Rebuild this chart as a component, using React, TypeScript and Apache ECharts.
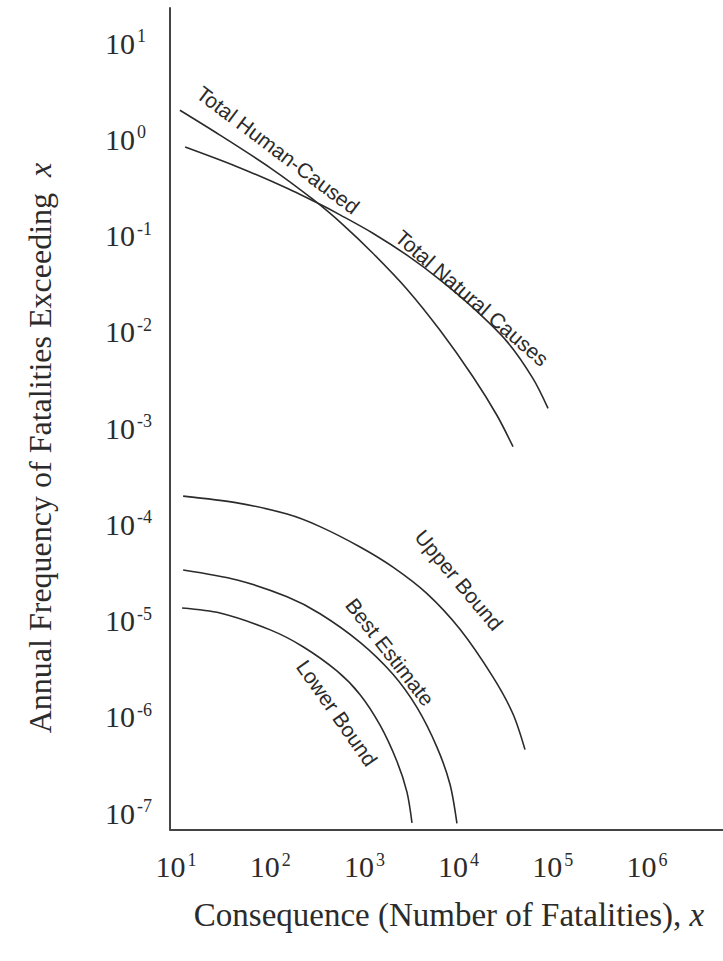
import React, { useEffect, useRef } from "react";
import * as echarts from "echarts";

// ---- Data ----
// [fatalities x, annual frequency of exceeding x]
const totalHumanCaused: [number, number][] = [
  [11, 2.0], [29, 1.11], [100, 0.505], [285, 0.237], [590, 0.13], [1230, 0.0655],
  [2830, 0.0277], [6350, 0.01035], [14200, 0.00341], [25600, 0.00135], [37800, 0.00064],
];
const totalNaturalCauses: [number, number][] = [
  [12.5, 0.83], [44.5, 0.519], [151, 0.31], [338, 0.211], [551, 0.164], [1230, 0.1057],
  [2830, 0.0625], [6350, 0.0347], [14200, 0.0178], [32700, 0.0079], [61700, 0.00326], [89000, 0.0016],
];
const upperBound: [number, number][] = [
  [11.9, 1.96e-4], [44.5, 1.67e-4], [151, 1.276e-4], [338, 9.46e-5], [900, 5.81e-5], [2010, 3.59e-5],
  [4620, 1.905e-5], [10350, 8.11e-6], [23200, 2.58e-6], [37800, 1.07e-6], [50700, 4.56e-7],
];
const bestEstimate: [number, number][] = [
  [11.9, 3.35e-5], [44.5, 2.64e-5], [151, 1.766e-5], [338, 1.178e-5], [900, 5.94e-6], [2010, 2.77e-6],
  [3610, 1.253e-6], [5900, 4.82e-7], [8100, 1.99e-7], [9600, 7.8e-8],
];
const lowerBound: [number, number][] = [
  [11.6, 1.35e-5], [29.3, 1.197e-5], [100, 8.0e-6], [223, 5.35e-6], [514, 2.98e-6], [900, 1.7e-6],
  [1466, 8.18e-7], [2218, 3.43e-7], [2830, 1.65e-7], [3200, 7.9e-8],
];

const seriesNames = ["Total Human-Caused", "Total Natural Causes", "Upper Bound", "Best Estimate", "Lower Bound"];
const seriesData = [totalHumanCaused, totalNaturalCauses, upperBound, bestEstimate, lowerBound];

const xAxisRange = [8.63, 6.41e6];
const yAxisRange = [6.75e-8, 23.1];

const xTitle = "Consequence (Number of Fatalities),";
const yTitle = "Annual Frequency of Fatalities Exceeding";
const titleVar = "x";

// ---- Styling ----
const SERIF = "'Liberation Serif', 'Times New Roman', serif";
const SANS = "'Liberation Sans', Arial, sans-serif";
const INK = "#2b2b2b";

const powLabel = (v: number) => {
  const e = Math.log10(v);
  const r = Math.round(e);
  if (Math.abs(e - r) > 1e-6) return "";
  return `{b|10}{s|${r}}`;
};

const labelRich = {
  b: { fontFamily: SERIF, fontSize: 30, lineHeight: 32, color: INK },
  s: { fontFamily: SERIF, fontSize: 18, lineHeight: 20, color: INK, verticalAlign: "top", padding: [0, 0, 0, 2] },
};

export default function App() {
  const ref = useRef<HTMLDivElement>(null);

  useEffect(() => {
    if (!ref.current) return;
    const chart = echarts.init(ref.current, undefined, { renderer: "svg" });

    const curveLabel = (text: string, x: number, y: number, deg: number) => ({
      type: "text",
      x,
      y,
      rotation: (-deg * Math.PI) / 180,
      style: {
        text,
        fontFamily: SANS,
        fontSize: 21,
        fill: INK,
        align: "center",
        verticalAlign: "middle",
      },
    });

    const titleRich = {
      n: { fontFamily: SERIF, fontSize: 33, fill: INK },
      i: { fontFamily: SERIF, fontSize: 33, fontStyle: "italic", fill: INK },
    };

    chart.setOption({
      animation: false,
      backgroundColor: "#ffffff",
      grid: { left: 170, top: 8, width: 553, height: 821.5, containLabel: false },
      xAxis: {
        type: "log",
        logBase: 10,
        min: xAxisRange[0],
        max: xAxisRange[1],
        splitNumber: 6,
        axisLine: { show: true, onZero: false, lineStyle: { color: "#444", width: 2 } },
        axisTick: { show: false },
        splitLine: { show: false },
        minorTick: { show: false },
        axisLabel: {
          margin: 21,
          showMinLabel: false,
          showMaxLabel: false,
          formatter: powLabel,
          rich: labelRich,
        },
      },
      yAxis: {
        type: "log",
        logBase: 10,
        min: yAxisRange[0],
        max: yAxisRange[1],
        splitNumber: 8,
        axisLine: { show: true, onZero: false, lineStyle: { color: "#444", width: 2 } },
        axisTick: { show: false },
        splitLine: { show: false },
        axisLabel: {
          margin: 65,
          align: "left",
          showMinLabel: false,
          showMaxLabel: false,
          formatter: powLabel,
          rich: labelRich,
        },
      },
      series: seriesData.map((d, i) => ({
        name: seriesNames[i],
        type: "line",
        data: d,
        smooth: 0.3,
        showSymbol: false,
        symbol: "none",
        lineStyle: { color: INK, width: 1.6 },
      })),
      graphic: [
        curveLabel("Total Human-Caused", 278, 150, 37),
        curveLabel("Total Natural Causes", 472, 298, 41),
        curveLabel("Upper Bound", 459, 580, 50),
        curveLabel("Best Estimate", 390, 652, 52),
        curveLabel("Lower Bound", 337, 713, 55),
        {
          type: "text",
          x: 449,
          y: 915,
          style: {
            text: `{n|${xTitle}} {i|${titleVar}}`,
            fontFamily: SERIF,
            fontSize: 33,
            fill: INK,
            align: "center",
            verticalAlign: "middle",
            rich: titleRich,
          },
        },
        {
          type: "text",
          x: 40,
          y: 448,
          rotation: Math.PI / 2,
          style: {
            text: `{n|${yTitle}}  {i|${titleVar}}`,
            fontFamily: SERIF,
            fontSize: 32,
            fill: INK,
            align: "center",
            verticalAlign: "middle",
            rich: {
              n: { fontFamily: SERIF, fontSize: 32, fill: INK },
              i: { fontFamily: SERIF, fontSize: 32, fontStyle: "italic", fill: INK },
            },
          },
        },
      ],
    });

    return () => chart.dispose();
  }, []);

  return (
    <div
      ref={ref}
      style={{ position: "fixed", left: 0, top: 0, width: 723, height: 961, background: "#fff" }}
    />
  );
}
